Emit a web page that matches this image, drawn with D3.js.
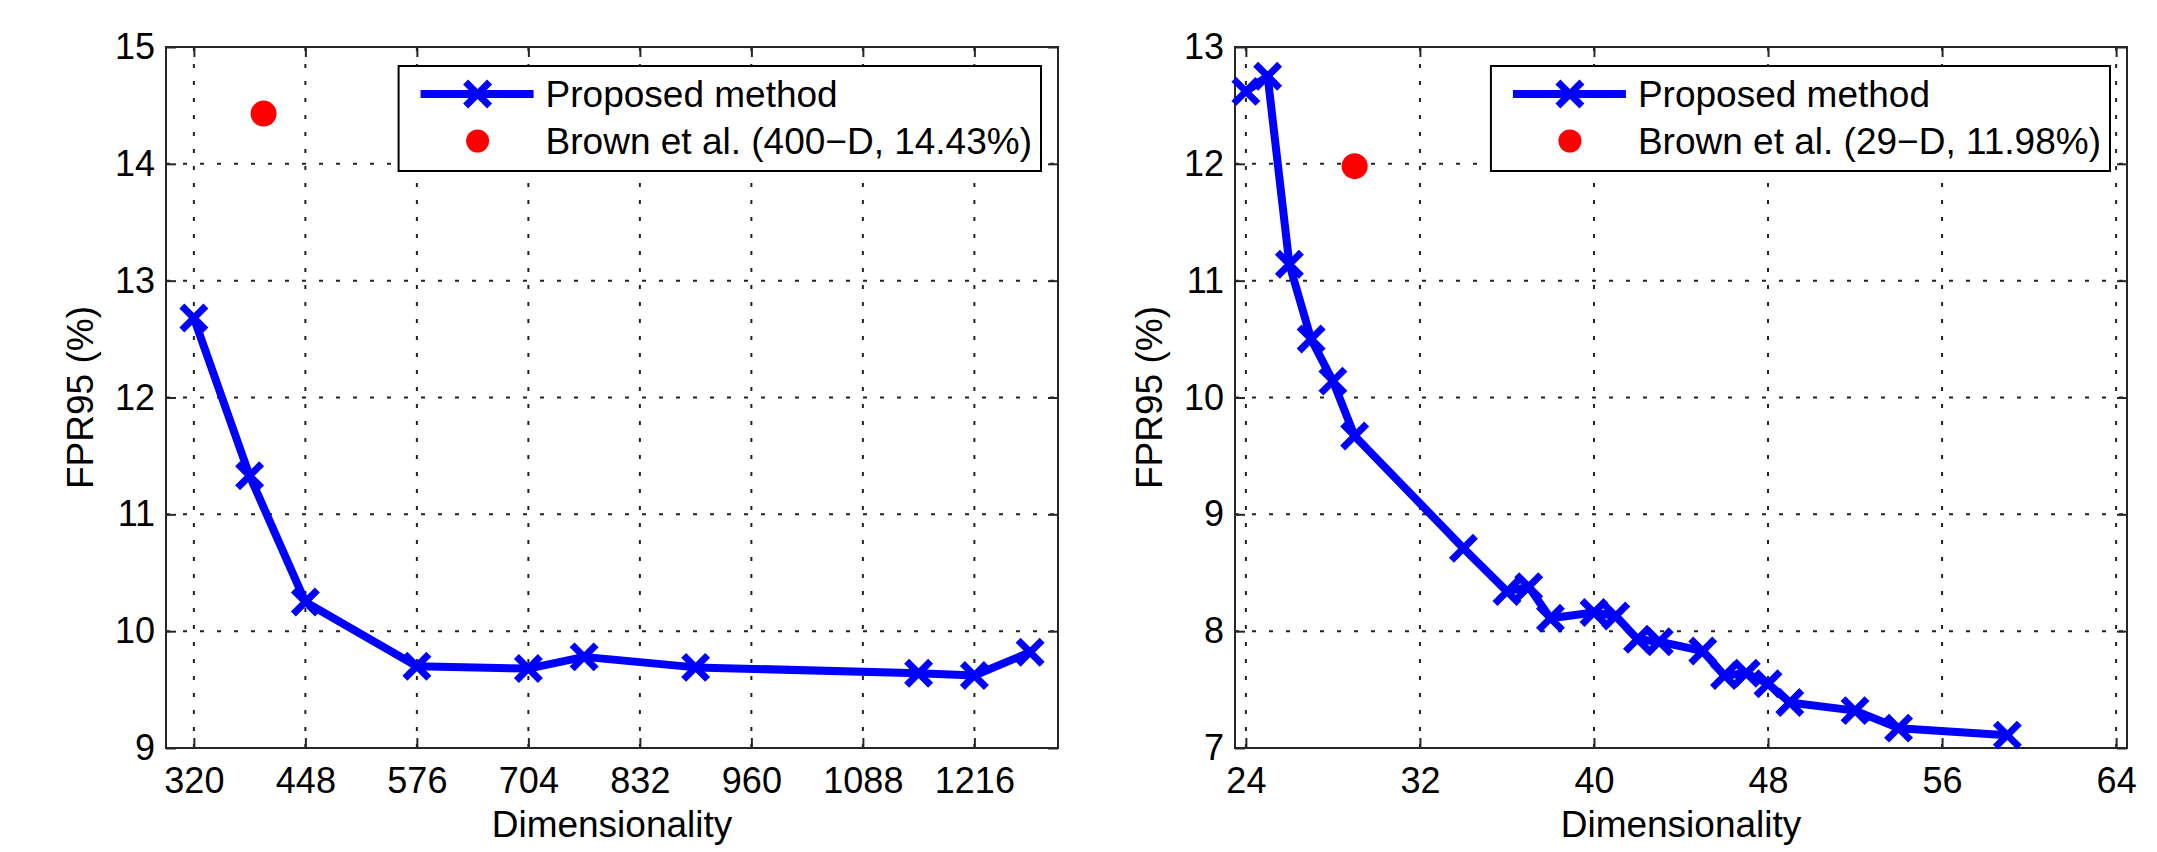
<!DOCTYPE html>
<html>
<head>
<meta charset="utf-8">
<script src="https://cdn.jsdelivr.net/npm/d3@7"></script>
<style>
  body { margin: 0; background: #fff; }
  svg { display: block; font-family: 'Liberation Sans', Arial, Helvetica, sans-serif; }
</style>
</head>
<body>
<svg id="chart" width="2157" height="852"></svg>
<script>
'use strict';

// left panel: full descriptor sizes
const leftDims = [320, 384, 448, 576, 704, 768, 896, 1152, 1216, 1280];
const leftFpr = [12.68, 11.33, 10.25, 9.70, 9.68, 9.78, 9.69, 9.64, 9.62, 9.82];
const leftBrown = [400, 14.43];
const leftXTicks = [320, 448, 576, 704, 832, 960, 1088, 1216];
const leftYTicks = [9, 10, 11, 12, 13, 14, 15];
const leftXDomain = [288, 1312];
const leftYDomain = [9, 15];
const leftBrownLabel = 'Brown et al. (400\u2212D, 14.43%)';

// right panel: low dimensional descriptors
const rightDims = [24, 25, 26, 27, 28, 29, 34, 36, 37, 38, 40, 41, 42, 43, 45, 46, 47, 48, 49, 52, 54, 59];
const rightFpr = [12.62, 12.75, 11.14, 10.50, 10.14, 9.67, 8.71, 8.34, 8.38, 8.11, 8.16, 8.13,
  7.93, 7.91, 7.83, 7.62, 7.64, 7.55, 7.39, 7.32, 7.17, 7.11];
const rightBrown = [29, 11.98];
const rightXTicks = [24, 32, 40, 48, 56, 64];
const rightYTicks = [7, 8, 9, 10, 11, 12, 13];
const rightXDomain = [23.5, 64.5];
const rightYDomain = [7, 13];
const rightBrownLabel = 'Brown et al. (29\u2212D, 11.98%)';

const proposedLabel = 'Proposed method';
const xLabel = 'Dimensionality';
const yLabel = 'FPR95 (%)';

const svg = d3.select('#chart');
const plotW = 892;
const plotH = 701;
const plotTop = 47;
const axisColor = '#262626';
const blue = '#0000ff';
const red = '#ff0000';

/**
 * Draws an X marker centred on (0,0), used for the data points and the legend
 */
function crossPath(r) {
  return `M${-r},${-r}L${r},${r}M${-r},${r}L${r},${-r}`;
}

/**
 * Draws one subplot
 * @param originX left edge of the plot box
 * @param cfg data and tick settings of the panel
 */
function drawPanel(originX, cfg) {
  const x = d3.scaleLinear().domain(cfg.xDomain).range([originX, originX + plotW]);
  const y = d3.scaleLinear().domain(cfg.yDomain).range([plotTop + plotH, plotTop]);
  const g = svg.append('g');

  // dotted grid
  const grid = g.append('g')
    .attr('stroke', '#222')
    .attr('stroke-width', 2)
    .attr('stroke-dasharray', '4,13');
  grid.selectAll('line.vx').data(cfg.xTicks).join('line')
    .attr('class', 'vx')
    .attr('x1', d => x(d)).attr('x2', d => x(d))
    .attr('y1', plotTop + plotH).attr('y2', plotTop);
  grid.selectAll('line.hy').data(cfg.yTicks).join('line')
    .attr('class', 'hy')
    .attr('x1', originX).attr('x2', originX + plotW)
    .attr('y1', d => y(d)).attr('y2', d => y(d));

  // axes, ticks pointing inwards on all four sides
  const bottom = g.append('g')
    .attr('transform', `translate(0,${plotTop + plotH})`)
    .call(d3.axisBottom(x).tickValues(cfg.xTicks).tickSize(-10).tickFormat(d3.format('d')));
  const top = g.append('g')
    .attr('transform', `translate(0,${plotTop})`)
    .call(d3.axisTop(x).tickValues(cfg.xTicks).tickSize(-10).tickFormat(''));
  const left = g.append('g')
    .attr('transform', `translate(${originX},0)`)
    .call(d3.axisLeft(y).tickValues(cfg.yTicks).tickSize(-10).tickFormat(d3.format('d')));
  const right = g.append('g')
    .attr('transform', `translate(${originX + plotW},0)`)
    .call(d3.axisRight(y).tickValues(cfg.yTicks).tickSize(-10).tickFormat(''));

  [bottom, top, left, right].forEach(a => {
    a.select('.domain').remove();
    a.attr('font-size', null).attr('font-family', null).attr('color', axisColor);
    a.selectAll('line').attr('stroke-width', 2);
  });
  bottom.selectAll('text')
    .attr('y', 45).attr('dy', null)
    .attr('font-size', 36).attr('fill', '#000');
  left.selectAll('text')
    .attr('x', -11)
    .attr('font-size', 36).attr('fill', '#000');

  g.append('rect')
    .attr('x', originX).attr('y', plotTop)
    .attr('width', plotW).attr('height', plotH)
    .attr('fill', 'none')
    .attr('stroke', axisColor)
    .attr('stroke-width', 2);

  // axis titles
  g.append('text')
    .attr('x', originX + plotW / 2).attr('y', 837)
    .attr('text-anchor', 'middle')
    .attr('font-size', 37)
    .text(xLabel);
  g.append('text')
    .attr('transform', `translate(${originX - 73},${plotTop + plotH / 2}) rotate(-90)`)
    .attr('text-anchor', 'middle')
    .attr('font-size', 37)
    .text(yLabel);

  // proposed method curve
  const pts = cfg.dims.map((d, i) => [d, cfg.fpr[i]]);
  g.append('path')
    .datum(pts)
    .attr('d', d3.line().x(d => x(d[0])).y(d => y(d[1])))
    .attr('fill', 'none')
    .attr('stroke', blue)
    .attr('stroke-width', 8)
    .attr('stroke-linejoin', 'round');
  g.append('g').selectAll('path').data(pts).join('path')
    .attr('transform', d => `translate(${x(d[0])},${y(d[1])})`)
    .attr('d', crossPath(12))
    .attr('stroke', blue)
    .attr('stroke-width', 7);

  // Brown et al. reference point
  g.append('circle')
    .attr('cx', x(cfg.brown[0])).attr('cy', y(cfg.brown[1]))
    .attr('r', 13)
    .attr('fill', red);

  // legend
  const boxRight = originX + plotW - 17;
  const leg = g.append('g');
  const box = leg.append('rect');
  const t1 = leg.append('text').attr('font-size', 37).attr('y', 94).attr('dy', '0.35em').text(proposedLabel);
  const t2 = leg.append('text').attr('font-size', 37).attr('y', 141).attr('dy', '0.35em').text(cfg.brownLabel);
  const textW = Math.max(t1.node().getComputedTextLength(), t2.node().getComputedTextLength());
  const textX = boxRight - 9 - textW;
  const boxLeft = textX - 147;
  t1.attr('x', textX);
  t2.attr('x', textX);
  box.attr('x', boxLeft).attr('y', 66)
    .attr('width', boxRight - boxLeft).attr('height', 105)
    .attr('fill', '#fff')
    .attr('stroke', '#000')
    .attr('stroke-width', 2);
  leg.append('line')
    .attr('x1', boxLeft + 22).attr('x2', boxLeft + 135)
    .attr('y1', 94).attr('y2', 94)
    .attr('stroke', blue).attr('stroke-width', 8);
  leg.append('path')
    .attr('transform', `translate(${boxLeft + 79},94)`)
    .attr('d', crossPath(12))
    .attr('stroke', blue).attr('stroke-width', 7);
  leg.append('circle')
    .attr('cx', boxLeft + 79).attr('cy', 141)
    .attr('r', 11.5)
    .attr('fill', red);
}

drawPanel(166, {
  dims: leftDims, fpr: leftFpr, brown: leftBrown, brownLabel: leftBrownLabel,
  xDomain: leftXDomain, yDomain: leftYDomain, xTicks: leftXTicks, yTicks: leftYTicks
});

drawPanel(1235, {
  dims: rightDims, fpr: rightFpr, brown: rightBrown, brownLabel: rightBrownLabel,
  xDomain: rightXDomain, yDomain: rightYDomain, xTicks: rightXTicks, yTicks: rightYTicks
});
</script>
</body>
</html>
